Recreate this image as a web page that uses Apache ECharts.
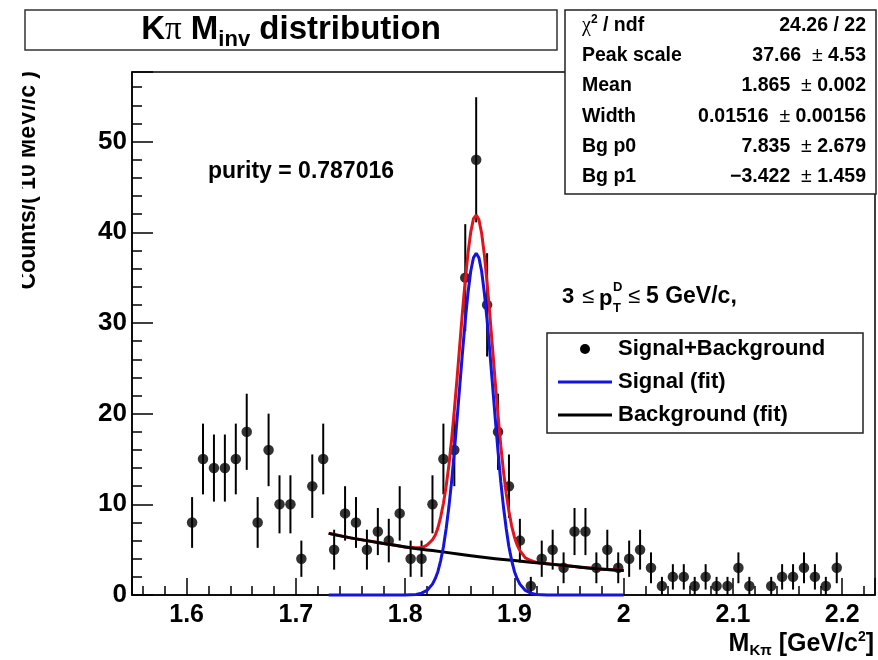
<!DOCTYPE html>
<html><head><meta charset="utf-8">
<script src="https://cdn.jsdelivr.net/npm/echarts@6/dist/echarts.min.js"></script>
<style>html,body{margin:0;padding:0;background:#fff}#c{width:878px;height:660px}</style>
</head><body><div id="c"></div>
<script>
// ---- data ----
const massBins = [1.605,1.615,1.625,1.635,1.645,1.655,1.665,1.675,1.685,1.695,
  1.705,1.715,1.725,1.735,1.745,1.755,1.765,1.775,1.785,1.795,
  1.805,1.815,1.825,1.835,1.845,1.855,1.865,1.875,1.885,1.895,
  1.905,1.915,1.925,1.935,1.945,1.955,1.965,1.975,1.985,1.995,
  2.005,2.015,2.025,2.035,2.045,2.055,2.065,2.075,2.085,2.095,
  2.105,2.115,2.125,2.135,2.145,2.155,2.165,2.175,2.185,2.195];
const counts = [8,15,14,14,15,18,8,16,10,10,
  4,12,15,5,9,8,5,7,6,9,
  4,4,10,15,16,35,48,32,18,12,
  6,1,4,5,3,7,7,3,5,3,
  4,5,3,1,2,2,1,2,1,1,
  3,1,0,1,2,2,3,2,1,3];
const countErrors = [2.8,3.9,3.7,3.7,3.9,4.2,2.8,4.0,3.2,3.2,
  2.0,3.5,3.9,2.2,3.0,2.8,2.2,2.6,2.4,3.0,
  2.0,2.0,3.2,3.9,4.0,5.9,6.9,5.7,4.2,3.5,
  2.4,1.0,2.0,2.2,1.7,2.6,2.6,1.7,2.2,1.7,
  2.0,2.2,1.7,1.0,1.4,1.4,1.0,1.4,1.0,1.0,
  1.7,1.0,0,1.0,1.4,1.4,1.7,1.4,1.0,1.7];

const sigX = [1.73,1.80,1.81,1.815,1.82,1.825,1.8275,1.83,1.8325,1.835,1.8375,1.84,1.8425,1.845,1.8475,
  1.85,1.8525,1.855,1.8575,1.86,1.8625,1.865,1.8675,1.87,1.8725,1.875,1.8775,1.88,1.8825,1.885,
  1.8875,1.89,1.8925,1.895,1.8975,1.90,1.9025,1.905,1.91,1.915,1.92,1.93,2.0];
const sigY = [0,0,0.05,0.2,0.5,1.2,1.8,2.6,3.8,5.3,7.3,9.7,12.5,15.8,19.4,
  23.1,26.8,30.3,33.3,35.7,37.2,37.7,37.2,35.7,33.3,30.3,26.8,23.1,19.4,15.8,
  12.5,9.7,7.3,5.3,3.8,2.6,1.8,1.2,0.5,0.2,0.05,0,0];

const totX = [1.73,1.75,1.775,1.80,1.81,1.815,1.82,1.825,1.8275,1.83,1.8325,1.835,1.8375,1.84,1.8425,
  1.845,1.8475,1.85,1.8525,1.855,1.8575,1.86,1.8625,1.865,1.8675,1.87,1.8725,1.875,1.8775,1.88,
  1.8825,1.885,1.8875,1.89,1.8925,1.895,1.8975,1.90,1.9025,1.905,1.91,1.915,1.92,1.925,1.95,1.975,2.0];
const totY = [6.8,6.3,5.8,5.3,5.2,5.2,5.5,6.1,6.6,7.4,8.6,10.1,12.0,14.3,17.1,
  20.4,23.9,27.6,31.3,34.7,37.7,40.0,41.5,41.9,41.4,39.9,37.5,34.4,30.9,27.2,
  23.4,19.8,16.5,13.6,11.2,9.2,7.6,6.4,5.5,4.9,4.1,3.8,3.6,3.5,3.2,2.9,2.7];

const bgX = [1.73,1.75,1.775,1.80,1.825,1.85,1.875,1.90,1.925,1.95,1.975,2.0];
const bgY = [6.8,6.3,5.8,5.3,4.9,4.5,4.1,3.8,3.5,3.2,2.9,2.7];

const statNames = ['χ² / ndf','Peak scale','Mean','Width','Bg p0','Bg p1'];
const statValues = [['24.26 / 22'],['37.66','4.53'],['1.865','0.002'],['0.01516','0.00156'],['7.835','2.679'],['\u22123.422','1.459']];
const legendLabels = ['Signal+Background','Signal (fit)','Background (fit)'];

// ---- build ----
const FONT = '"Liberation Sans", Arial, Helvetica, sans-serif';
const points = [], bars = [];
massBins.forEach((m, i) => {
  if (counts[i] > 0) {
    points.push([m, counts[i]]);
    bars.push([m, counts[i] - countErrors[i], counts[i] + countErrors[i]]);
  }
});
const pairs = (xs, ys) => xs.map((x, i) => [x, ys[i]]);

const chart = echarts.init(document.getElementById('c'), null, {renderer: 'canvas'});

const graphics = [];
// title box
graphics.push({type: 'rect', shape: {x: 25, y: 10, width: 532, height: 40}, style: {fill: '#fff', stroke: '#333', lineWidth: 1.5}, z: 100});
graphics.push({type: 'text', x: 291, y: 30, z: 101, style: {
  text: '{a|K}{pi|π}{a| M}{s|inv}{a| distribution}', align: 'center', verticalAlign: 'middle',
  rich: {
    a: {fontFamily: FONT, fontWeight: 'bold', fontSize: 33, fill: '#000'},
    pi: {fontFamily: '"Liberation Serif", serif', fontSize: 33, fill: '#000'},
    s: {fontFamily: FONT, fontWeight: 'bold', fontSize: 22, fill: '#000', padding: [20, 0, 0, 0]}
  }}});
// stats box
graphics.push({type: 'rect', shape: {x: 565, y: 10, width: 311, height: 184}, style: {fill: '#fff', stroke: '#222', lineWidth: 1.5}, z: 100});
statNames.forEach((n, i) => {
  const y = 25.5 + 30.3 * i;
  const label = i === 0 ? '{chi|χ}{sup|2}{b| / ndf}' : '{b|' + n + '}';
  graphics.push({type: 'text', x: 582, y: y, z: 101, style: {text: label, align: 'left', verticalAlign: 'middle',
    rich: {
      b: {fontFamily: FONT, fontWeight: 'bold', fontSize: 19.5, fill: '#000'},
      chi: {fontFamily: '"Liberation Serif", serif', fontSize: 20, fill: '#000'},
      sup: {fontFamily: FONT, fontWeight: 'bold', fontSize: 12, fill: '#000', padding: [0, 0, 12, 0]}
    }}});
  const v = statValues[i];
  const vt = v.length === 1 ? '{b|' + v[0] + '}' : '{b|' + v[0] + '  }{pm|±}{b| ' + v[1] + '}';
  graphics.push({type: 'text', x: 866, y: y, z: 101, style: {text: vt, align: 'right', verticalAlign: 'middle',
    rich: {
      b: {fontFamily: FONT, fontWeight: 'bold', fontSize: 19.5, fill: '#000'},
      pm: {fontFamily: FONT, fontSize: 19.5, fill: '#000'}
    }}});
});
// purity
graphics.push({type: 'text', x: 208, y: 172, z: 101, style: {text: 'purity = 0.787016', align: 'left', verticalAlign: 'middle',
  fontFamily: FONT, fontWeight: 'bold', fontSize: 23, fill: '#000'}});
// pT text
const pt = (t, x, y, size, bold) => graphics.push({type: 'text', x: x, y: y, z: 101, style: {text: t, align: 'left', verticalAlign: 'middle',
  fontFamily: FONT, fontWeight: bold ? 'bold' : 'normal', fontSize: size, fill: '#000'}});
pt('3', 562, 297, 22, true);
pt('≤', 582, 297, 22, false);
pt('p', 599, 299, 22, true);
pt('D', 613, 287, 13, true);
pt('T', 613, 308, 13, true);
pt('≤', 628, 297, 22, false);
pt('5 GeV/c,', 646, 297, 23, true);
// legend
graphics.push({type: 'rect', shape: {x: 547, y: 333, width: 316, height: 100}, style: {fill: '#fff', stroke: '#222', lineWidth: 1.5}, z: 100});
graphics.push({type: 'circle', shape: {cx: 585, cy: 349, r: 5}, style: {fill: '#000'}, z: 101});
graphics.push({type: 'line', shape: {x1: 558, y1: 382, x2: 612, y2: 382}, style: {stroke: '#1414dc', lineWidth: 3}, z: 101});
graphics.push({type: 'line', shape: {x1: 558, y1: 415, x2: 612, y2: 415}, style: {stroke: '#000', lineWidth: 3}, z: 101});
legendLabels.forEach((t, i) => {
  graphics.push({type: 'text', x: 618, y: 349 + 33 * i, z: 101, style: {text: t, align: 'left', verticalAlign: 'middle',
    fontFamily: FONT, fontWeight: 'bold', fontSize: 22, fill: '#000'}});
});
// y axis title (rotated, partially cut on its left side as in the reference)
graphics.push({type: 'text', x: 29, y: 71, rotation: Math.PI / 2, z: 101, style: {
  text: 'Counts/( 10 MeV//c )', align: 'right', verticalAlign: 'middle',
  fontFamily: FONT, fontWeight: 'bold', fontSize: 23, fill: '#000'}});
graphics.push({type: 'rect', shape: {x: 0, y: 60, width: 22, height: 250}, style: {fill: '#fff'}, z: 102});
// x axis title
graphics.push({type: 'text', x: 874, y: 644, z: 101, style: {
  text: '{m|M}{s|Kπ}{m| [GeV/c}{p|2}{m|]}', align: 'right', verticalAlign: 'middle',
  rich: {
    m: {fontFamily: FONT, fontWeight: 'bold', fontSize: 25, fill: '#000'},
    s: {fontFamily: FONT, fontWeight: 'bold', fontSize: 15, fill: '#000', padding: [14, 0, 0, 0]},
    p: {fontFamily: FONT, fontWeight: 'bold', fontSize: 14, fill: '#000', padding: [0, 0, 14, 0]}
  }}});

chart.setOption({
  animation: false,
  backgroundColor: '#fff',
  grid: {left: 132, right: 3, top: 72, bottom: 65, show: true, borderColor: '#000', borderWidth: 1.5, backgroundColor: 'transparent', outerBoundsMode: 'none'},
  xAxis: {
    type: 'value', min: 1.55, max: 2.23, splitNumber: 7,
    axisLine: {show: true, onZero: false, lineStyle: {color: '#000', width: 1.5}},
    axisTick: {show: true, inside: true, length: 17, lineStyle: {color: '#000', width: 1.5}},
    minorTick: {show: true, splitNumber: 5, length: 9, lineStyle: {color: '#000', width: 1.5}},
    splitLine: {show: false},
    axisLabel: {showMinLabel: false, showMaxLabel: false, margin: 8, color: '#000', fontFamily: FONT, fontWeight: 'bold', fontSize: 25}
  },
  yAxis: {
    type: 'value', min: 0, max: 57.68, interval: 10,
    axisLine: {show: true, lineStyle: {color: '#000', width: 1.5}},
    axisTick: {show: true, inside: true, length: 21, lineStyle: {color: '#000', width: 1.5}},
    minorTick: {show: true, splitNumber: 5, length: 10, lineStyle: {color: '#000', width: 1.5}},
    splitLine: {show: false},
    axisLabel: {showMaxLabel: false, margin: 5, color: '#000', fontFamily: FONT, fontWeight: 'bold', fontSize: 26}
  },
  series: [
    {type: 'custom', data: bars, encode: {x: 0, y: [1, 2]}, z: 2,
      renderItem: (params, api) => {
        const x = api.value(0);
        const p1 = api.coord([x, api.value(1)]);
        const p2 = api.coord([x, api.value(2)]);
        return {type: 'line', shape: {x1: p1[0], y1: p1[1], x2: p2[0], y2: p2[1]}, style: {stroke: '#000', lineWidth: 2}};
      }},
    {type: 'scatter', data: points, symbol: 'circle', symbolSize: 10.5, itemStyle: {color: '#000'}, z: 3},
    {type: 'line', data: pairs(totX, totY), showSymbol: false, symbol: 'none', clip: false, lineStyle: {color: '#e0141c', width: 3}, z: 4},
    {type: 'line', data: pairs(bgX, bgY), smooth: true, showSymbol: false, symbol: 'none', clip: false, lineStyle: {color: '#000', width: 3}, z: 5},
    {type: 'line', data: pairs(sigX, sigY), showSymbol: false, symbol: 'none', clip: false, lineStyle: {color: '#1414dc', width: 3}, z: 6}
  ],
  graphic: graphics
});
</script></body></html>
